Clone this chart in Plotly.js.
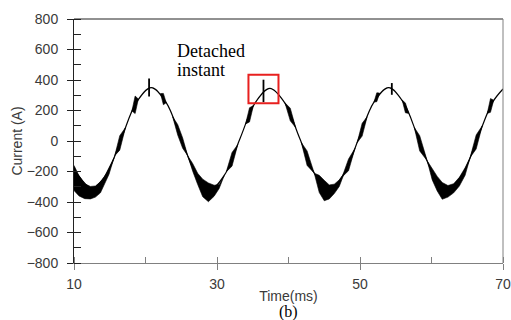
<!DOCTYPE html>
<html>
<head>
<meta charset="utf-8">
<script src="https://cdn.plot.ly/plotly-3.0.1.min.js"></script>
<style>
  html, body { margin: 0; padding: 0; background: #fff; }
  #chart { width: 511px; height: 320px; }
</style>
</head>
<body>
<div id="chart"></div>
<script>
// ---- Data ----
// Centre line of the current waveform (ms, A)
const timeMs = [10.0, 10.43, 12.5, 14.58, 16.65, 18.73, 20.8, 22.88, 24.95, 27.03, 29.1, 31.18, 33.25, 35.33, 37.4, 39.48, 41.55, 43.63, 45.7, 47.78, 49.85, 51.93, 54.0, 56.08, 58.15, 60.23, 62.3, 64.38, 66.45, 68.53, 70.0];
const currentA = [-173, -213, -310, -213, 20, 253, 350, 253, 20, -213, -315, -213, 20, 250, 345, 250, 20, -213, -318, -213, 20, 253, 350, 253, 20, -213, -312, -213, 20, 253, 341];

// High-frequency noise bursts: upper / lower envelope (null separates bursts)
const burstT = [
  10.0, 10.7, 11.5, 12.3, 13.0, 13.7, 14.2, 14.9, 15.6, null,
  15.7, 16.4, 17.2, null,
  18.1, 18.55, 19.0, null,
  22.1, 22.5, 22.9, null,
  23.8, 24.5, 25.2, 25.9, null,
  25.9, 26.6, 27.3, 28.0, 28.8, 29.6, 30.3, 31.0, null,
  31.3, 32.1, 32.9, null,
  34.0, 34.55, 35.1, null,
  39.5, 40.25, 41.0, null,
  41.8, 42.6, 43.6, null,
  43.6, 44.3, 45.0, 45.7, 46.4, 47.1, 47.8, null,
  47.5, 48.4, 49.3, null,
  49.6, 50.3, 51.0, null,
  51.95, 52.35, 52.75, null,
  55.9, 56.35, 56.8, null,
  57.6, 58.35, 59.4, null,
  59.4, 60.1, 60.8, 61.5, 62.3, 63.1, 63.9, 64.7, 65.4, null,
  65.4, 66.25, 67.1, null,
  67.8, 68.25, 68.7
];
const burstHi = [
  -160, -228, -280, -298, -295, -268, -240, -175, -109, null,
  -96, 35, 88, null,
  197, 295, 275, null,
  311, 312, 251, null,
  159, 108, 20, -96, null,
  -96, -148, -212, -250, -275, -290, -285, -228, null,
  -202, -75, -24, null,
  112, 218, 233, null,
  251, 215, 88, null,
  -11, -65, -211, null,
  -211, -225, -258, -288, -283, -255, -211, null,
  -236, -118, -48, null,
  -11, 116, 159, null,
  255, 316, 314, null,
  268, 250, 181, null,
  88, 35, -130, null,
  -130, -180, -232, -272, -292, -280, -238, -175, -108, null,
  -108, 40, 100, null,
  181, 278, 268
];
const burstLo = [
  -325, -360, -378, -380, -368, -340, -285, -218, -109, null,
  -96, -60, 88, null,
  197, 180, 275, null,
  311, 238, 251, null,
  159, 40, -48, -96, null,
  -96, -198, -285, -365, -398, -362, -312, -228, null,
  -202, -165, -24, null,
  112, 125, 233, null,
  251, 132, 88, null,
  -11, -160, -211, null,
  -211, -338, -392, -380, -345, -298, -211, null,
  -236, -195, -48, null,
  -11, 32, 159, null,
  255, 258, 314, null,
  268, 185, 181, null,
  88, -65, -130, null,
  -130, -255, -328, -382, -368, -340, -295, -225, -108, null,
  -108, -52, 100, null,
  181, 188, 268
];

// Spikes at the peaks (ms, low A, high A)
const spikeT = [20.5, 36.5, 54.45];
const spikeLo = [292, 255, 303];
const spikeHi = [410, 402, 380];

// Highlight box around the detached instant [x0, x1, y0, y1]
const highlightBox = [34.4, 38.6, 248, 435];

// Text
const xTitle = 'Time(ms)';
const yTitle = 'Current (A)';
const noteLine1 = 'Detached';
const noteLine2 = 'instant';
const panelLabel = '(b)';
const noteX = 24.1;
const noteY = [588, 465];

// ---- Build traces ----
function polygonsFromEnvelopes(t, hi, lo) {
  const xs = [], ys = [];
  let segT = [], segHi = [], segLo = [];
  const flush = () => {
    if (!segT.length) return;
    for (let i = 0; i < segT.length; i++) { xs.push(segT[i]); ys.push(segHi[i]); }
    for (let i = segT.length - 1; i >= 0; i--) { xs.push(segT[i]); ys.push(segLo[i]); }
    xs.push(null); ys.push(null);
    segT = []; segHi = []; segLo = [];
  };
  for (let i = 0; i < t.length; i++) {
    if (t[i] === null) { flush(); continue; }
    segT.push(t[i]); segHi.push(hi[i]); segLo.push(lo[i]);
  }
  flush();
  return { xs, ys };
}
const poly = polygonsFromEnvelopes(burstT, burstHi, burstLo);

const spikeX = [], spikeY = [];
spikeT.forEach((t, i) => { spikeX.push(t, t, null); spikeY.push(spikeLo[i], spikeHi[i], null); });

const traces = [
  {
    x: timeMs, y: currentA, type: 'scatter', mode: 'lines',
    line: { color: '#000', width: 1.2, shape: 'spline', smoothing: 1 },
    hoverinfo: 'skip', showlegend: false
  },
  {
    x: poly.xs, y: poly.ys, type: 'scatter', mode: 'lines',
    fill: 'toself', fillcolor: '#000',
    line: { color: '#000', width: 0.6 },
    hoverinfo: 'skip', showlegend: false
  },
  {
    x: spikeX, y: spikeY, type: 'scatter', mode: 'lines',
    line: { color: '#000', width: 1.8 },
    hoverinfo: 'skip', showlegend: false
  },
  { x: [], y: [], xaxis: 'x2', yaxis: 'y', type: 'scatter', showlegend: false, hoverinfo: 'skip' }
];

const tickFont = { family: 'Liberation Sans, Arial, sans-serif', size: 14, color: '#3a3a3a' };

const layout = {
  width: 511, height: 320,
  margin: { l: 74, r: 8, t: 19, b: 57 },
  paper_bgcolor: '#fff', plot_bgcolor: '#fff',
  showlegend: false,
  xaxis: {
    range: [10, 70], autorange: false,
    tick0: 10, dtick: 20,
    ticks: 'outside', ticklen: 6, tickcolor: '#808080', tickwidth: 1,
    showline: true, linecolor: '#808080', linewidth: 1,
    showgrid: false, zeroline: false,
    tickfont: tickFont, ticklabelstandoff: 2,
    minor: { ticks: 'inside', ticklen: 6, tick0: 10, dtick: 10, tickcolor: '#808080', showgrid: false },
    title: { text: xTitle, font: { family: 'Liberation Sans, Arial, sans-serif', size: 14, color: '#3a3a3a' }, standoff: 0 }
  },
  xaxis2: {
    overlaying: 'x', anchor: 'y', side: 'bottom',
    range: [10, 70], autorange: false,
    tick0: 10, dtick: 20,
    ticks: 'inside', ticklen: 6, tickcolor: '#808080',
    showticklabels: false, showline: false, showgrid: false, zeroline: false
  },
  yaxis: {
    range: [-800, 800], autorange: false,
    tick0: -800, dtick: 200,
    ticks: 'outside', ticklen: 6, tickcolor: '#222', tickwidth: 1,
    showline: true, linecolor: '#222', linewidth: 1,
    showgrid: false, zeroline: false,
    tickfont: tickFont, ticklabelstandoff: 6,
    minor: { ticks: 'inside', ticklen: 7, tick0: -800, dtick: 100, tickcolor: '#222', showgrid: false },
    title: { text: yTitle, font: { family: 'Liberation Sans, Arial, sans-serif', size: 14, color: '#3a3a3a' }, standoff: 0 }
  },
  shapes: [
    { type: 'line', xref: 'paper', yref: 'paper', x0: 0, x1: 1, y0: 1, y1: 1, line: { color: '#222', width: 1 } },
    { type: 'line', xref: 'paper', yref: 'paper', x0: 1, x1: 1, y0: 0, y1: 1, line: { color: '#808080', width: 1 } },
    { type: 'rect', xref: 'x', yref: 'y', x0: highlightBox[0], x1: highlightBox[1], y0: highlightBox[2], y1: highlightBox[3],
      line: { color: '#e8201f', width: 2 }, fillcolor: 'rgba(0,0,0,0)' }
  ],
  annotations: [
    { text: noteLine1, x: noteX, y: noteY[0], xref: 'x', yref: 'y', xanchor: 'left', yanchor: 'middle',
      showarrow: false, font: { family: 'Liberation Serif, Times New Roman, serif', size: 18, color: '#000' } },
    { text: noteLine2, x: noteX, y: noteY[1], xref: 'x', yref: 'y', xanchor: 'left', yanchor: 'middle',
      showarrow: false, font: { family: 'Liberation Serif, Times New Roman, serif', size: 18, color: '#000' } },
    { text: panelLabel, x: 0.5, y: -0.245, xref: 'paper', yref: 'paper', xanchor: 'center', yanchor: 'bottom',
      showarrow: false, font: { family: 'Liberation Serif, Times New Roman, serif', size: 16, color: '#000' } }
  ]
};

Plotly.newPlot('chart', traces, layout, { displayModeBar: false, staticPlot: true });
</script>
</body>
</html>
